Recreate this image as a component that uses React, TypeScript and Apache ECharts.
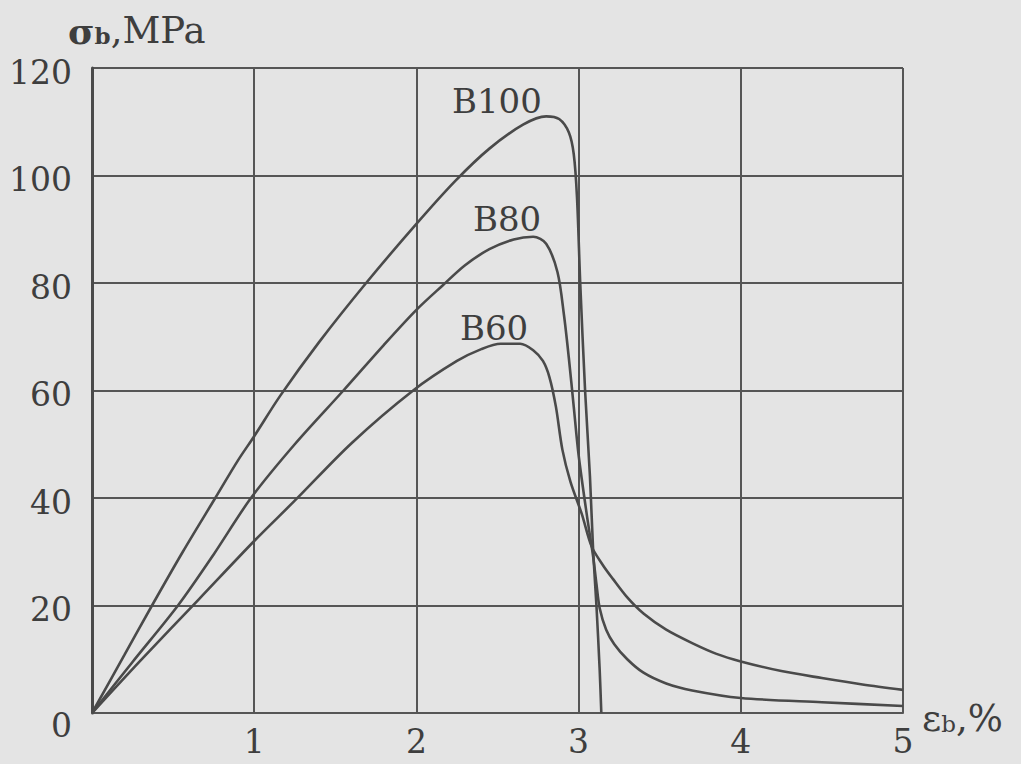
import React, { useEffect, useRef } from "react";
import * as echarts from "echarts";

// strain (%) , stress (MPa)
const seriesNames = ["B100", "B80", "B60"];

const b100: [number, number][] = [
  [0, 0], [0.2, 10.8], [0.37, 20], [0.56, 30], [0.76, 40], [0.9, 47], [1.0, 51.5],
  [1.16, 59], [1.4, 69], [1.69, 80], [2.0, 91], [2.24, 99], [2.45, 105], [2.66, 109.5],
  [2.8, 111], [2.88, 110.5], [2.94, 108], [2.97, 104], [2.99, 96], [3.01, 80],
  [3.04, 60], [3.07, 44], [3.09, 30], [3.11, 20], [3.13, 8], [3.14, 0],
];

const b80: [number, number][] = [
  [0, 0], [0.25, 9.5], [0.53, 20], [0.75, 29.5], [0.98, 40], [1.25, 50], [1.55, 60],
  [1.8, 68.5], [2.0, 75], [2.16, 79.5], [2.3, 83.3], [2.45, 86.3], [2.6, 88.1],
  [2.72, 88.6], [2.8, 87.3], [2.87, 82], [2.91, 74], [2.94, 66], [2.97, 57],
  [3.0, 48], [3.05, 37], [3.09, 29], [3.11, 24], [3.13, 19.5], [3.17, 15.5],
  [3.22, 12.8], [3.3, 10], [3.4, 7.5], [3.54, 5.5], [3.7, 4.2], [4.0, 2.8],
  [4.5, 2.0], [5.0, 1.3],
];

const b60: [number, number][] = [
  [0, 0], [0.3, 9.8], [0.66, 21.2], [1.0, 32], [1.25, 39.5], [1.6, 50.2], [1.98, 60],
  [2.25, 65.5], [2.4, 67.7], [2.52, 68.7], [2.64, 68.7], [2.72, 67.5], [2.78, 65.5],
  [2.82, 62.5], [2.86, 57], [2.9, 49], [2.95, 43], [3.02, 37], [3.08, 31],
  [3.15, 27.5], [3.21, 25], [3.3, 21.5], [3.4, 18.5], [3.54, 15.5], [3.7, 13],
  [3.85, 11], [4.0, 9.6], [4.25, 7.8], [4.5, 6.5], [4.75, 5.3], [5.0, 4.3],
];

const xMin = 0, xMax = 5, xStep = 1;
const yMin = 0, yMax = 120, yStep = 20;

const FONT = "DejaVu Serif";
const INK = "#3e3e3e";
const LINE = "#555555";

export default function App() {
  const ref = useRef<HTMLDivElement>(null);
  useEffect(() => {
    document.body.style.margin = "0";
    const chart = echarts.init(ref.current!, null, { renderer: "svg" });
    const seriesData = [b100, b80, b60];
    chart.setOption({
      animation: false,
      backgroundColor: "#e4e4e4",
      grid: { left: 92, top: 68, right: 118, bottom: 51 },
      xAxis: {
        type: "value",
        min: xMin,
        max: xMax,
        interval: xStep,
        name: "{e|ε}{s|b}{e|,%}",
        nameLocation: "end",
        nameGap: 19,
        nameTextStyle: {
          padding: [10, 0, 0, 0],
          rich: {
            e: { fontFamily: FONT, fontSize: 37, color: INK },
            s: { fontFamily: FONT, fontSize: 23, color: INK, padding: [12, 0, 0, 0] },
          },
        },
        axisLine: { show: true, lineStyle: { color: LINE, width: 2 } },
        axisTick: { show: false },
        splitLine: { show: true, lineStyle: { color: LINE, width: 2 } },
        axisLabel: {
          fontFamily: FONT,
          fontSize: 33,
          color: INK,
          margin: 12,
          formatter: (v: number) => (v === 0 ? "" : String(v)),
        },
      },
      yAxis: {
        type: "value",
        min: yMin,
        max: yMax,
        interval: yStep,
        axisLine: { show: true, lineStyle: { color: "#4a4a4a", width: 3 } },
        axisTick: { show: false },
        splitLine: { show: true, lineStyle: { color: LINE, width: 2 } },
        axisLabel: {
          fontFamily: FONT,
          fontSize: 33,
          color: INK,
          margin: 20,
          padding: [8, 0, 0, 0],
          formatter: (v: number) => (v === 0 ? "{z|0}" : String(v)),
          rich: {
            z: { fontFamily: FONT, fontSize: 33, color: INK, padding: [16, 0, 0, 0] },
          },
        },
      },
      series: seriesData.map((d, i) => ({
        name: seriesNames[i],
        type: "line",
        data: d,
        showSymbol: false,
        smooth: 0.3,
        lineStyle: { color: "#4a4a4a", width: 2.6 },
        z: 5,
      })),
      graphic: [
        {
          type: "text",
          left: 68,
          top: 12,
          style: {
            text: "{s|σ}{b|b}{t|,MPa}",
            rich: {
              s: { fontFamily: FONT, fontSize: 36, fontWeight: "bold", fill: INK },
              b: { fontFamily: FONT, fontSize: 23, fontWeight: "bold", fill: INK, padding: [10, 0, 0, 0] },
              t: { fontFamily: FONT, fontSize: 37, fill: INK },
            },
          },
        },
        {
          type: "text",
          left: 452,
          top: 84,
          style: { text: seriesNames[0], fontFamily: FONT, fontSize: 34, fill: INK },
        },
        {
          type: "text",
          left: 473,
          top: 202,
          style: { text: seriesNames[1], fontFamily: FONT, fontSize: 34, fill: INK },
        },
        {
          type: "text",
          left: 460,
          top: 311,
          style: { text: seriesNames[2], fontFamily: FONT, fontSize: 34, fill: INK },
        },
      ],
    });
    return () => chart.dispose();
  }, []);
  return <div ref={ref} style={{ width: 1021, height: 764 }} />;
}
